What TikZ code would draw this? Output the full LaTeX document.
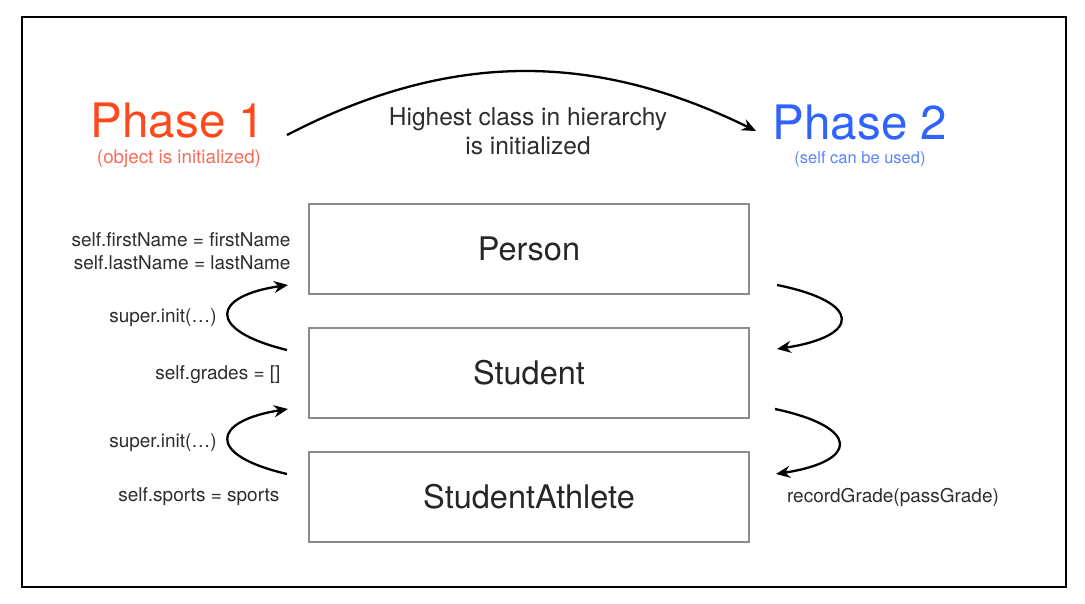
\documentclass[tikz,border=0pt]{standalone}
\usepackage{fontspec}
\setmainfont{TeX Gyre Heros}
\usepackage{tikz}
\usetikzlibrary{arrows.meta, calc, positioning}
\definecolor{phaseRed}{RGB}{255,72,28}
\definecolor{phaseRedLight}{RGB}{246,108,88}
\definecolor{phaseBlue}{RGB}{48,98,255}
\definecolor{phaseBlueLight}{RGB}{92,132,248}
\definecolor{boxGray}{RGB}{140,140,144}
\definecolor{labelGray}{RGB}{45,45,45}
\tikzstyle{classbox} = [rectangle, draw=boxGray, line width=2pt, minimum width=440pt, minimum height=90pt, text centered, font=\fontsize{32.5}{38}\selectfont, text=black!85]
\tikzstyle{phase} = [font=\fontsize{47.5}{52}\selectfont]
\tikzstyle{code} = [font=\fontsize{19}{23}\selectfont, text=labelGray]
\tikzstyle{arrow} = [line width=2.3pt, -{Stealth[length=14pt,width=12pt]}]

\begin{document}
\begin{tikzpicture}[x=1pt, y=1pt, node distance = 32pt]
	\useasboundingbox (0,0) rectangle (1085,-604);
	\draw[line width=1.4pt] (22,-17) rectangle (1066,-587);

	\node (Phase1) [phase, text=phaseRed] at (178,-121) {Phase 1};
	\node (Phase1Note) [font=\fontsize{18.8}{21}\selectfont, text=phaseRedLight] at (179,-159) {(object is initialized)};
	\node (Phase2) [phase, text=phaseBlue] at (860,-123) {Phase 2};
	\node (Phase2Note) [font=\fontsize{16.5}{19}\selectfont, text=phaseBlueLight] at (860,-159) {(self can be used)};
	\node (Hierarchy) [align=center, font=\fontsize{24.5}{29}\selectfont, text=labelGray] at (528,-131) {Highest class in hierarchy\\is initialized};

	\node (Person) [classbox] at (529,-249) {Person};
	\node (Student) [classbox, below = of Person] {Student};
	\node (Athlete) [classbox, below = of Student] {StudentAthlete};

	\node (InitPerson) [code, align=right, anchor=east] at (294,-251) {self.firstName = firstName\\self.lastName = lastName};
	\node (SuperOne) [code] at (163,-318) {super.init(…)};
	\node (InitStudent) [code, anchor=east] at (284,-375) {self.grades = []};
	\node (SuperTwo) [code] at (163,-443) {super.init(…)};
	\node (InitAthlete) [code, anchor=east] at (283,-497) {self.sports = sports};
	\node (Record) [code] at (893,-497) {recordGrade(passGrade)};

	\coordinate (ArcStart) at (287,-135);
	\coordinate (ArcEnd) at (756,-131);
	\coordinate (UpOneStart) at ($(Student.north west)+(-21,-23)$);
	\coordinate (UpOneEnd) at ($(Person.south west)+(-20,10)$);
	\coordinate (UpTwoStart) at ($(Athlete.north west)+(-21,-23)$);
	\coordinate (UpTwoEnd) at ($(Student.south west)+(-20,10)$);
	\coordinate (DownOneStart) at ($(Person.south east)+(27,10)$);
	\coordinate (DownOneEnd) at ($(Student.north east)+(27,-22)$);
	\coordinate (DownTwoStart) at ($(Student.south east)+(25,10)$);
	\coordinate (DownTwoEnd) at ($(Athlete.north east)+(26,-23)$);

	\draw [arrow] (ArcStart) .. controls (449,-51) and (593,-51) .. (ArcEnd);
	\draw [arrow] (UpOneStart) .. controls (205,-330) and (212,-296) .. (UpOneEnd);
	\draw [arrow] (UpTwoStart) .. controls (205,-455) and (212,-421) .. (UpTwoEnd);
	\draw [arrow] (DownOneStart) .. controls (862,-302) and (862,-336) .. (DownOneEnd);
	\draw [arrow] (DownTwoStart) .. controls (860,-427) and (860,-461) .. (DownTwoEnd);
\end{tikzpicture}
\end{document}
